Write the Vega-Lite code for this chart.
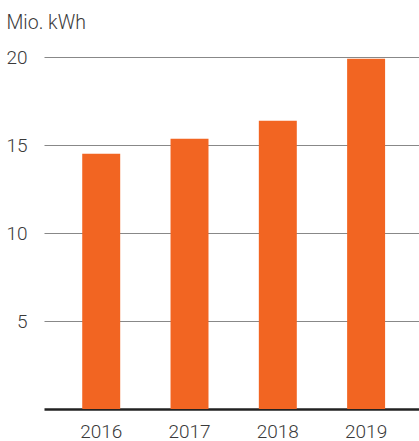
{
  "$schema": "https://vega.github.io/schema/vega-lite/v6.json",
  "autosize": "none",
  "width": 375,
  "height": 352,
  "padding": {"left": 44, "top": 57, "right": 0, "bottom": 32},
  "background": "white",
  "config": {"view": {"stroke": null}, "font": "Roboto"},
  "data": {"values": [
    {"year": "2016", "value": 14.5},
    {"year": "2017", "value": 15.35},
    {"year": "2018", "value": 16.38},
    {"year": "2019", "value": 19.9}
  ]},
  "mark": {"type": "bar", "color": "#F26522"},
  "encoding": {
    "x": {
      "field": "year", "type": "nominal",
      "scale": {"paddingInner": 0.57, "paddingOuter": 0.4085, "align": 0.53},
      "axis": {
        "title": null, "labelAngle": 0, "ticks": false,
        "domainColor": "#222", "domainWidth": 2.5,
        "labelFont": "Roboto", "labelFontSize": 19, "labelFontWeight": 300, "labelColor": "#3a3a3a",
        "labelPadding": 13
      }
    },
    "y": {
      "field": "value", "type": "quantitative",
      "scale": {"domain": [0, 20]},
      "axis": {
        "values": [5, 10, 15, 20],
        "domain": false, "ticks": false,
        "gridColor": "#888", "gridWidth": 1.2,
        "labelFont": "Roboto", "labelFontSize": 19, "labelFontWeight": 300, "labelColor": "#3a3a3a",
        "labelPadding": 17,
        "title": "Mio. kWh", "titleAngle": 0, "titleAlign": "left",
        "titleBaseline": "alphabetic", "titleX": -38, "titleY": -29,
        "titleFont": "Roboto", "titleFontSize": 19.5, "titleFontWeight": 300,
        "titleColor": "#3a3a3a"
      }
    }
  }
}
